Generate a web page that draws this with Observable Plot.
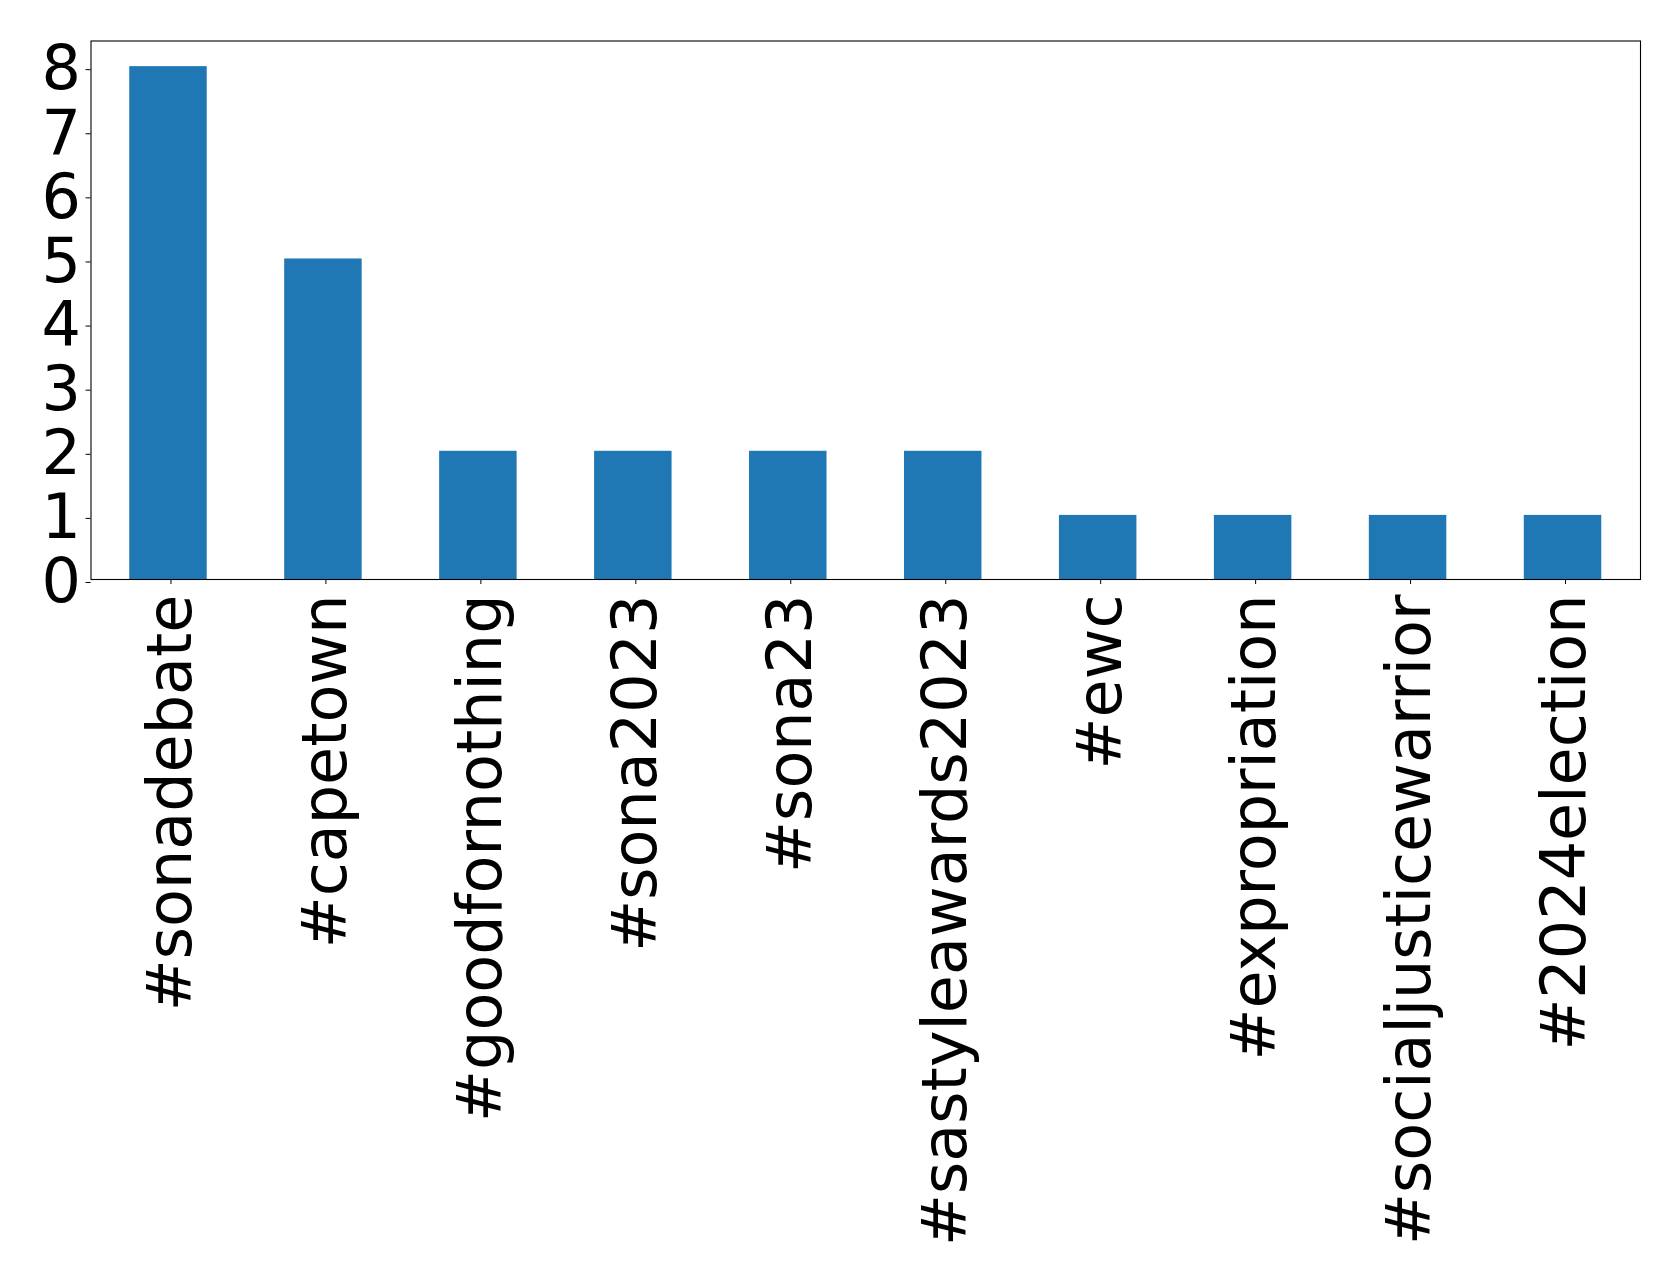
<!DOCTYPE html>
<html>
<head>
<meta charset="utf-8">
<script src="https://cdn.jsdelivr.net/npm/d3@7"></script>
<script src="https://cdn.jsdelivr.net/npm/@observablehq/plot@0.6"></script>
<style>
  html, body { margin: 0; padding: 0; background: #fff; }
  #chart svg { display: block; }
</style>
</head>
<body>
<div id="chart"></div>
<script>
const hashtags = ["#sonadebate", "#capetown", "#goodfornothing", "#sona2023", "#sona23",
  "#sastyleawards2023", "#ewc", "#expropriation", "#socialjusticewarrior", "#2024election"];
const counts = [8, 5, 2, 2, 2, 2, 1, 1, 1, 1];
const yTicks = [0, 1, 2, 3, 4, 5, 6, 7, 8];

const data = hashtags.map((h, i) => ({tag: h, count: counts[i]}));

const chart = Plot.plot({
  width: 1679,
  height: 1285,
  marginLeft: 90.5,
  marginRight: 39,
  marginTop: 40.5,
  marginBottom: 706,
  style: {fontFamily: "DejaVu Sans", fontSize: "62px", color: "#000", background: "#fff"},
  x: {domain: hashtags, paddingInner: 0.5, paddingOuter: 0.25, round: false, label: null},
  y: {domain: [0, 8.4], label: null},
  marks: [
    Plot.barY(data, {x: "tag", y: "count", fill: "#1f77b4", inset: 0}),
    Plot.frame({stroke: "#000", strokeWidth: 1.1}),
    Plot.axisY({ticks: yTicks, tickSize: 5, tickPadding: 5, tickFormat: d => String(d), label: null, fontSize: 62, dy: 3, stroke: "#000"}),
    Plot.axisX({tickSize: 5, tickPadding: 10, tickRotate: -90, label: null, fontSize: 62, dx: 2.5})
  ]
});
document.getElementById("chart").appendChild(chart);
</script>
</body>
</html>
